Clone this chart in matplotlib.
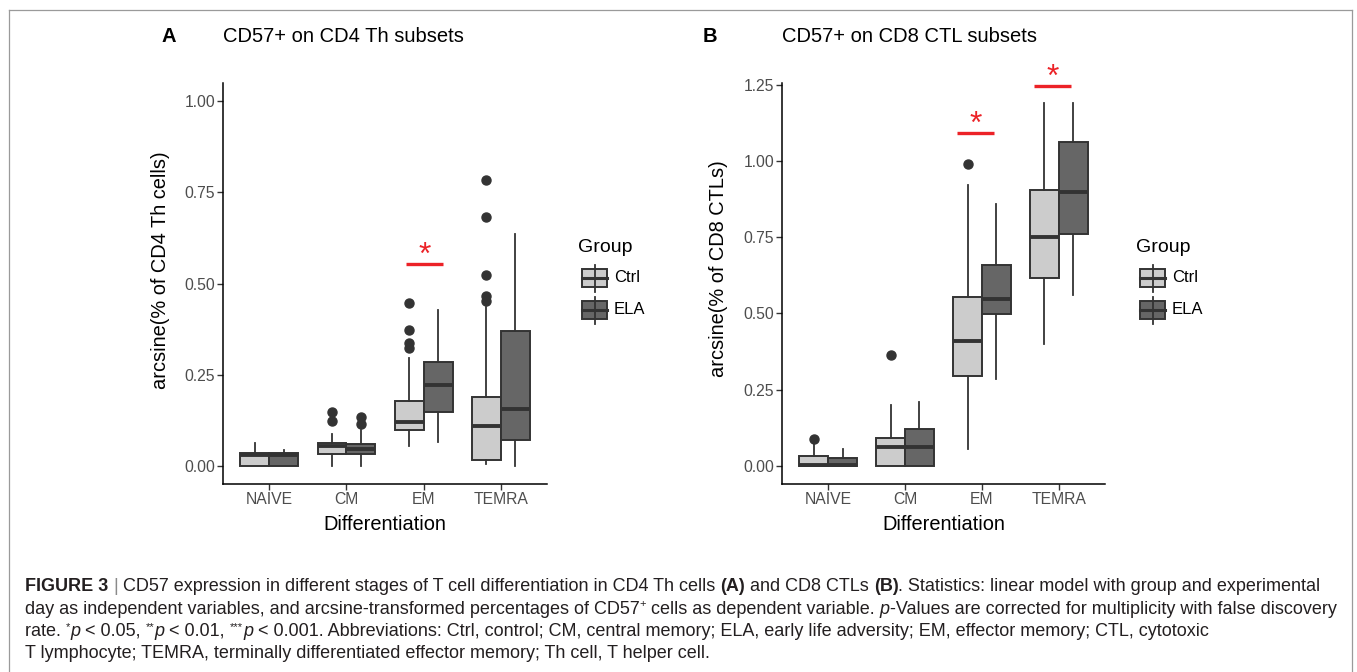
import matplotlib
matplotlib.use("Agg")
import matplotlib.pyplot as plt
from matplotlib.patches import Rectangle
from matplotlib.lines import Line2D
from matplotlib.font_manager import FontProperties

plt.rcParams['font.family'] = ['Liberation Sans', 'DejaVu Sans']

# Data: (lower whisker, Q1, median, Q3, upper whisker)
stages = ["NAIVE", "CM", "EM", "TEMRA"]
group_names = ["Ctrl", "ELA"]

cd4_ctrl = [(0.0, 0.0, 0.030, 0.035, 0.062),
            (0.0, 0.031, 0.055, 0.063, 0.088),
            (0.055, 0.097, 0.119, 0.178, 0.295),
            (0.004, 0.016, 0.109, 0.189, 0.436)]
cd4_ctrl_out = [[], [0.122, 0.148], [0.322, 0.338, 0.373, 0.447],
                [0.452, 0.467, 0.523, 0.682, 0.783]]
cd4_ela = [(0.0, 0.0, 0.030, 0.035, 0.043),
           (0.0, 0.031, 0.046, 0.060, 0.099),
           (0.064, 0.147, 0.222, 0.285, 0.427),
           (0.0, 0.072, 0.156, 0.369, 0.636)]
cd4_ela_out = [[], [0.114, 0.134], [], []]

cd8_ctrl = [(0.0, 0.0, 0.002, 0.031, 0.070),
            (0.0, 0.0, 0.062, 0.091, 0.200),
            (0.056, 0.293, 0.410, 0.553, 0.922),
            (0.400, 0.616, 0.749, 0.905, 1.190)]
cd8_ctrl_out = [[0.089], [0.362], [0.990], []]
cd8_ela = [(0.0, 0.0, 0.002, 0.024, 0.054),
           (0.0, 0.0, 0.062, 0.120, 0.210),
           (0.285, 0.497, 0.547, 0.660, 0.860),
           (0.560, 0.762, 0.898, 1.064, 1.190)]
cd8_ela_out = [[], [], [], []]

# significance bars (centre x in category units, y value)
cd4_sig_x = [3.013]
cd4_sig_y = [0.553]
cd8_sig_x = [2.916, 3.920]
cd8_sig_y = [1.092, 1.247]

W, H = 1357, 672
fig = plt.figure(figsize=(W / 100, H / 100), dpi=100)


def fx(x):
    return x / W


def fy(y):
    return 1 - y / H


fill_cols = {"Ctrl": "#cccccc", "ELA": "#666666"}
edge = "#333333"


def make_stats(summary, outliers):
    stats = []
    for (lo, q1, med, q3, hi), out in zip(summary, outliers):
        stats.append(dict(whislo=lo, q1=q1, med=med, q3=q3, whishi=hi, fliers=out))
    return stats


def panel(ax, ctrl, ctrl_out, ela, ela_out, ylim, yticks, ylabel, sig_x, sig_y):
    for g, summ, out, off in [("Ctrl", ctrl, ctrl_out, -0.1875), ("ELA", ela, ela_out, 0.1875)]:
        pos = [i + 1 + off for i in range(len(stages))]
        ax.bxp(make_stats(summ, out), positions=pos, widths=0.375,
               patch_artist=True, showcaps=False, manage_ticks=False,
               boxprops=dict(facecolor=fill_cols[g], edgecolor=edge, linewidth=1.4),
               medianprops=dict(color=edge, linewidth=2.8, solid_capstyle='butt'),
               whiskerprops=dict(color=edge, linewidth=1.3),
               flierprops=dict(marker='o', markerfacecolor=edge, markeredgecolor=edge,
                               markersize=6.5))
    for x, y in zip(sig_x, sig_y):
        ax.plot([x - 0.237, x + 0.237], [y, y], color="#ec2227", lw=2.4,
                solid_capstyle='butt', clip_on=False)
        ax.text(x, y, "*", color="#ec2227", fontsize=23, ha='center', va='baseline',
                clip_on=False)
    ax.set_xlim(0.4, 4.6)
    ax.set_ylim(*ylim)
    ax.set_xticks(range(1, 5))
    ax.set_xticklabels(stages)
    ax.set_yticks(yticks)
    ax.set_yticklabels(["%.2f" % v for v in yticks])
    for s in ["top", "right"]:
        ax.spines[s].set_visible(False)
    for s in ["left", "bottom"]:
        ax.spines[s].set_color("black")
        ax.spines[s].set_linewidth(1.1)
    ax.tick_params(length=4, width=1.0, color="#333333", labelcolor="#4d4d4d",
                   labelsize=11.3, pad=1.5)
    ax.set_xlabel("Differentiation", fontsize=14.4, labelpad=6)
    ax.set_ylabel(ylabel, fontsize=14.4)


ax1 = fig.add_axes([fx(223), fy(484), fx(547) - fx(223), fy(83) - fy(484)])
panel(ax1, cd4_ctrl, cd4_ctrl_out, cd4_ela, cd4_ela_out, (-0.05, 1.05),
      [0, 0.25, 0.5, 0.75, 1.0], "arcsine(% of CD4 Th cells)", cd4_sig_x, cd4_sig_y)
ax1.yaxis.set_label_coords(-0.164, 0.534)

ax2 = fig.add_axes([fx(782), fy(484), fx(1105) - fx(782), fy(83) - fy(484)])
panel(ax2, cd8_ctrl, cd8_ctrl_out, cd8_ela, cd8_ela_out, (-0.06, 1.256),
      [0, 0.25, 0.5, 0.75, 1.0, 1.25], "arcsine(% of CD8 CTLs)", cd8_sig_x, cd8_sig_y)
ax2.yaxis.set_label_coords(-0.167, 0.536)

# panel titles
fig.text(fx(162), fy(37), "A", fontsize=14.5, fontweight='bold', va='center')
fig.text(fx(223), fy(37), "CD57+ on CD4 Th subsets", fontsize=14.5, va='center')
fig.text(fx(703), fy(37), "B", fontsize=14.5, fontweight='bold', va='center')
fig.text(fx(782), fy(37), "CD57+ on CD8 CTL subsets", fontsize=14.5, va='center')


# legends
def draw_legend(x0):
    fig.text(fx(x0 - 4), fy(248), "Group", fontsize=14, va='center')
    for i, g in enumerate(group_names):
        top = 269 + i * 32
        cx = x0 + 12.5
        fig.add_artist(Line2D([fx(cx), fx(cx)], [fy(top - 4.5), fy(top + 22.5)],
                              color=edge, lw=1.3))
        fig.add_artist(Rectangle((fx(x0), fy(top + 18)), fx(25), 18 / H,
                                 facecolor=fill_cols[g], edgecolor=edge, lw=1.4))
        fig.add_artist(Line2D([fx(x0), fx(x0 + 25)], [fy(top + 9), fy(top + 9)],
                              color=edge, lw=2.2))
        fig.text(fx(x0 + 32), fy(top + 9), g, fontsize=12, va='center')


draw_legend(582)
draw_legend(1140)

# frame around the figure
frame_col = "#9a9a9a"
fig.add_artist(Line2D([fx(9), fx(9)], [fy(10), 0], color=frame_col, lw=0.9))
fig.add_artist(Line2D([fx(1352), fx(1352)], [fy(10), 0], color=frame_col, lw=0.9))
fig.add_artist(Line2D([fx(9), fx(1352)], [fy(10), fy(10)], color=frame_col, lw=0.9))

# caption with mixed styles
cap_fs = 13.0
cap_col = "#231f20"
renderer = fig.canvas.get_renderer()


def run_width(s, fp):
    w1, _, _ = renderer.get_text_width_height_descent(s + "I", fp, ismath=False)
    w2, _, _ = renderer.get_text_width_height_descent("I", fp, ismath=False)
    return w1 - w2


def draw_runs(y, runs, x=25):
    for s, style in runs:
        size = cap_fs
        dy = 0
        weight, fstyle = 'normal', 'normal'
        if style == 'b':
            weight = 'bold'
        elif style == 'i':
            fstyle = 'italic'
        elif style == 'sup':
            size = cap_fs * 0.62
            dy = -6
        col = "#8a8a8a" if s.strip() == "|" else cap_col
        fp = FontProperties(family=['Liberation Sans'], size=size, weight=weight, style=fstyle)
        fig.text(fx(x), fy(y + dy), s, fontproperties=fp, color=col, va='baseline')
        x += run_width(s, fp)


cap_lines = [
    [("FIGURE 3", 'b'), (" ", 'n'), ("|", 'n'),
     (" CD57 expression in different stages of T cell differentiation in CD4 Th cells ", 'n'),
     ("(A)", 'b'), (" and CD8 CTLs ", 'n'), ("(B)", 'b'),
     (". Statistics: linear model with group and experimental", 'n')],
    [("day as independent variables, and arcsine-transformed percentages of CD57", 'n'),
     ("+", 'sup'), (" cells as dependent variable. ", 'n'), ("p", 'i'),
     ("-Values are corrected for multiplicity with false discovery", 'n')],
    [("rate. ", 'n'), ("*", 'sup'), ("p", 'i'), (" < 0.05, ", 'n'), ("**", 'sup'), ("p", 'i'),
     (" < 0.01, ", 'n'), ("***", 'sup'), ("p", 'i'),
     (" < 0.001. Abbreviations: Ctrl, control; CM, central memory; ELA, early life adversity; "
      "EM, effector memory; CTL, cytotoxic", 'n')],
    [("T lymphocyte; TEMRA, terminally differentiated effector memory; Th cell, T helper cell.", 'n')],
]
for k, runs in enumerate(cap_lines):
    draw_runs(591 + k * 22.5, runs)

fig.savefig("out.png", dpi=100)
